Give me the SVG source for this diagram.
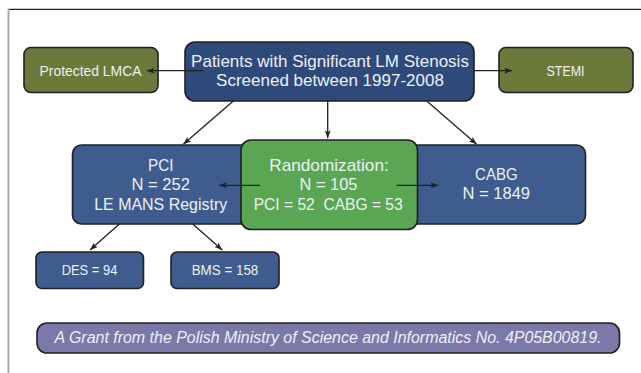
<svg xmlns="http://www.w3.org/2000/svg" width="641" height="373" viewBox="0 0 641 373">
<defs>
<style>
.box{stroke:#231f20;stroke-width:1.6}
.navy{fill:#2d4a7b}
.blue{fill:#3e5c8e}
.olive{fill:#6a7a3b}
.green{fill:#5ba653}
.grant{fill:#7a79aa}
text{font-family:"Liberation Sans",Arial,sans-serif;fill:#eef0f5;text-anchor:middle}
.t17{font-size:17px}
.t14{font-size:15px}
.ital{font-size:16px;font-style:italic}
.conn line{stroke:#231f20;stroke-width:1.3;fill:none}
</style>
<marker id="arr" viewBox="0 0 8 6" refX="8" refY="3" markerWidth="8" markerHeight="6" orient="auto" markerUnits="userSpaceOnUse">
<path d="M0,0 L8,3 L0,6 L2,3 z" fill="#231f20"/>
</marker>
</defs>
<rect width="641" height="373" fill="#ffffff"/>
<g id="frame">
<line x1="8" y1="8.5" x2="641" y2="8.5" stroke="#c8c8c8" stroke-width="1"/>
<line x1="8" y1="9.5" x2="641" y2="9.5" stroke="#231f20" stroke-width="1.2"/>
<line x1="8.5" y1="9" x2="8.5" y2="373" stroke="#a8a8a8" stroke-width="2"/>
</g>
<g id="screened">
<rect class="box navy" x="185" y="42" width="289" height="59" rx="10"/>
<text class="t17" x="330" y="66.7">Patients with Significant LM Stenosis</text>
<text class="t17" x="330" y="85.7">Screened between 1997-2008</text>
</g>
<g id="protected">
<rect class="box olive" x="24" y="47.5" width="134" height="45" rx="7"/>
<text class="t14" x="90.5" y="75.5" textLength="102" lengthAdjust="spacingAndGlyphs">Protected LMCA</text>
</g>
<g id="stemi">
<rect class="box olive" x="499" y="47.5" width="134" height="45" rx="7"/>
<text class="t14" x="565.5" y="75.5" textLength="38" lengthAdjust="spacingAndGlyphs">STEMI</text>
</g>
<g id="pci">
<rect class="box blue" x="72.5" y="145" width="180" height="79" rx="9"/>
<text class="t17" x="160.7" y="170.7" textLength="25.5" lengthAdjust="spacingAndGlyphs">PCI</text>
<text class="t17" x="160.7" y="190" textLength="58.5" lengthAdjust="spacingAndGlyphs">N = 252</text>
<text class="t17" x="160.7" y="209.5" textLength="133" lengthAdjust="spacingAndGlyphs">LE MANS Registry</text>
</g>
<g id="cabg">
<rect class="box blue" x="405" y="145" width="180.5" height="79" rx="9"/>
<text class="t17" x="496.3" y="180" textLength="42.5" lengthAdjust="spacingAndGlyphs">CABG</text>
<text class="t17" x="496.3" y="199.3" textLength="67.5" lengthAdjust="spacingAndGlyphs">N = 1849</text>
</g>
<g id="randomization">
<rect class="box green" x="241" y="140" width="176.5" height="89.5" rx="10"/>
<text class="t17" x="329" y="170.7" textLength="119.5" lengthAdjust="spacingAndGlyphs">Randomization:</text>
<text class="t17" x="328.5" y="190" textLength="58" lengthAdjust="spacingAndGlyphs">N = 105</text>
<text class="t17" x="328.2" y="210" textLength="149" lengthAdjust="spacingAndGlyphs">PCI = 52&#160; CABG = 53</text>
</g>
<g id="des">
<rect class="box blue" x="36" y="252" width="107.5" height="36.5" rx="6"/>
<text class="t14" x="89.5" y="274.5" textLength="55.7" lengthAdjust="spacingAndGlyphs">DES = 94</text>
</g>
<g id="bms">
<rect class="box blue" x="171" y="252" width="108" height="36.5" rx="6"/>
<text class="t14" x="225" y="274.5" textLength="66.7" lengthAdjust="spacingAndGlyphs">BMS = 158</text>
</g>
<g id="grant">
<rect class="box grant" x="37" y="323" width="582.5" height="30" rx="10"/>
<text class="ital" x="328" y="343.3" textLength="547" lengthAdjust="spacingAndGlyphs">A Grant from the Polish Ministry of Science and Informatics No. 4P05B00819.</text>
</g>
<g id="connectors" class="conn">
<line x1="203" y1="70.7" x2="146.7" y2="70.7" marker-end="url(#arr)"/>
<line x1="474" y1="70.7" x2="512.3" y2="70.7" marker-end="url(#arr)"/>
<line x1="233.3" y1="101" x2="183.3" y2="144.3" marker-end="url(#arr)"/>
<line x1="327.7" y1="101" x2="327.7" y2="138.3" marker-end="url(#arr)"/>
<line x1="426.7" y1="101" x2="476.7" y2="144.3" marker-end="url(#arr)"/>
<line x1="260" y1="185.3" x2="219" y2="185.3" marker-end="url(#arr)"/>
<line x1="396.7" y1="185.3" x2="438.3" y2="185.3" marker-end="url(#arr)"/>
<line x1="119.3" y1="224" x2="90" y2="250" marker-end="url(#arr)"/>
<line x1="192.7" y1="224" x2="222.3" y2="250" marker-end="url(#arr)"/>
</g>
</svg>
